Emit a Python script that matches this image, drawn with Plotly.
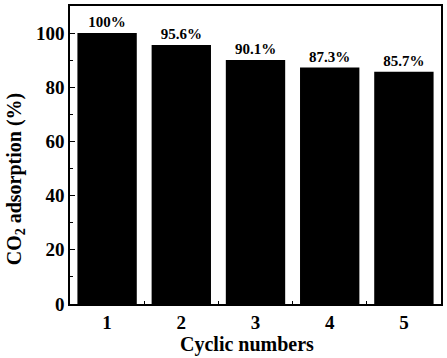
import plotly.graph_objects as go

cycles = ["1", "2", "3", "4", "5"]
adsorption = [100, 95.6, 90.1, 87.3, 85.7]
labels = ["100%", "95.6%", "90.1%", "87.3%", "85.7%"]
yticks = [0, 20, 40, 60, 80, 100]
x_title = "Cyclic numbers"
y_title = "CO<sub>2</sub> adsorption (%)"

FONT = "Liberation Serif, Times New Roman, serif"

fig = go.Figure(go.Bar(
    x=cycles, y=adsorption, text=labels, textposition="outside",
    texttemplate="<b>%{text}</b>",
    textfont=dict(family=FONT, size=15, color="black"),
    marker=dict(color="black", line=dict(width=0)),
    width=0.8, cliponaxis=False,
))

fig.update_layout(
    width=447, height=358,
    margin=dict(l=70, r=4, t=4, b=54),
    paper_bgcolor="white", plot_bgcolor="white",
    font=dict(family=FONT, color="black", size=18),
    showlegend=False,
    annotations=[
        dict(text="<b>%s</b>" % y_title, textangle=-90, xref="paper", yref="paper",
             x=-0.147, y=0.42, xanchor="center", yanchor="middle", showarrow=False,
             font=dict(family=FONT, size=20, color="black")),
        dict(text="<b>%s</b>" % x_title, xref="paper", yref="paper",
             x=0.476, y=-0.137, xanchor="center", yanchor="middle", showarrow=False,
             font=dict(family=FONT, size=20, color="black")),
    ],
)
fig.update_xaxes(
    type="category", tickson="boundaries", ticks="inside", ticklen=3,
    tickwidth=1.2, tickcolor="black",
    showline=True, linecolor="black", linewidth=1.5, mirror=True,
    tickvals=cycles, ticktext=["<b>%s</b>" % c for c in cycles],
    tickfont=dict(family=FONT, size=19),
    range=[-0.5, 4.5],
)
fig.update_yaxes(
    range=[0, 110], tickvals=yticks,
    ticktext=["<b>%d</b>" % v for v in yticks],
    ticks="inside", ticklen=5, tickwidth=1.2, tickcolor="black",
    minor=dict(dtick=10, ticks="inside", ticklen=3, tickcolor="black", tickwidth=1),
    showline=True, linecolor="black", linewidth=1.5, mirror=True,
    showgrid=False, zeroline=False,
    tickfont=dict(family=FONT, size=19),
)

fig.write_html(
    "out.html",
    config={"displayModeBar": False},
    post_script="document.body.style.margin='0';document.body.style.overflow='hidden';",
)
